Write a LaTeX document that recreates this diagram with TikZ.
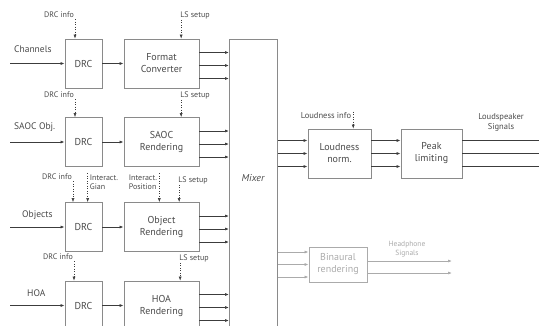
\documentclass[tikz,border=0pt]{standalone}
\usepackage{fontspec}
\setmainfont{PT Sans}
\usetikzlibrary{arrows.meta,calc,positioning}
\definecolor{linegray}{HTML}{3C3C3C}
\definecolor{boxgray}{HTML}{8A8A8A}
\definecolor{textgray}{HTML}{4A4A4A}
\definecolor{fadegray}{HTML}{ABABAB}
\tikzset{
  block/.style={draw=boxgray,line width=0.8pt,minimum height=49pt,inner sep=1pt,align=center,font=\fontsize{10}{12}\selectfont,text=textgray},
  drc block/.style={block,minimum width=37pt},
  render block/.style={block,minimum width=75pt},
  sig edge/.style={-{Latex[length=4pt,width=3pt]},linegray,line width=0.7pt},
  plain edge/.style={linegray,line width=0.7pt},
  ctrl edge/.style={-{Latex[length=4pt,width=3pt]},linegray,dotted,line width=0.5pt},
  small label/.style={font=\fontsize{8}{9}\selectfont,text=textgray,inner sep=1pt,align=center},
  in label/.style={font=\fontsize{9.5}{11}\selectfont,text=textgray,inner sep=0pt,anchor=west},
  faded/.style={draw=fadegray,text=fadegray,fadegray},
}
\begin{document}
\begin{tikzpicture}[x=1pt,y=-1pt]
  \useasboundingbox (0,0) rectangle (539,325);
  \clip (0,0) rectangle (539,325);
  % processing chains
  \node[drc block] (drc1) at (83.5,63.5) {DRC};
  \node[render block] (conv) at (161.5,63.5) {Format\\Converter};
  \node[drc block] (drc2) at (83.5,142) {DRC};
  \node[render block] (saoc) at (161.5,142) {SAOC\\Rendering};
  \node[drc block] (drc3) at (83.5,227) {DRC};
  \node[render block] (obj) at (161.5,227) {Object\\Rendering};
  \node[drc block] (drc4) at (83.5,305.5) {DRC};
  \node[render block] (hoa) at (161.5,305.5) {HOA\\Rendering};
  \node[draw=boxgray,line width=0.8pt,minimum width=48pt,minimum height=310pt,inner sep=0pt,anchor=north west] (mixer) at (229,39) {};
  \node[font=\fontsize{10}{12}\selectfont\itshape,text=textgray] (mixlbl) at (253,178) {Mixer};
  \node[block,minimum width=63pt] (loud) at (339.5,153.5) {Loudness\\norm.};
  \node[block,minimum width=61pt] (peak) at (431.5,153.5) {Peak\\limiting};
  \node[block,faded,minimum width=58pt,minimum height=35pt] (bin) at (338,264.5) {Binaural\\rendering};
  % inputs
  \coordinate (in1) at (10,63.5);
  \coordinate (in2) at (10,142);
  \coordinate (in3) at (10,227);
  \coordinate (in4) at (10,305.5);
  \node[in label] (chl) at (14,49) {Channels};
  \node[in label] (saol) at (14,127) {SAOC Obj.};
  \node[in label] (objl) at (22,215) {Objects};
  \node[in label] (hoal) at (27,293) {HOA};
  \draw[sig edge] (in1) -- (drc1);
  \draw[sig edge] (in2) -- (drc2);
  \draw[sig edge] (in3) -- (drc3);
  \draw[sig edge] (in4) -- (drc4);
  \draw[sig edge] (drc1) -- (conv);
  \draw[sig edge] (drc2) -- (saoc);
  \draw[sig edge] (drc3) -- (obj);
  \draw[sig edge] (drc4) -- (hoa);
  % renderer outputs
  \foreach \r in {conv,saoc,obj,hoa}
    \foreach \dy in {-11,2,15}
      \draw[sig edge] ($(\r.east)+(0,\dy)$) -- ($(mixer.west|-\r.east)+(0,\dy)$);
  % control inputs
  \node[small label] (info1) at (59,15) {DRC info};
  \node[small label] (ls1) at (195,15) {LS setup};
  \node[small label] (info2) at (59,95) {DRC info};
  \node[small label] (ls2) at (195,95) {LS setup};
  \node[small label] (info3) at (57,177) {DRC info};
  \node[small label,align=left] (gain) at (104,182) {Interact.\\Gian};
  \node[small label,align=left] (pos) at (143,182) {Interact.\\Position};
  \node[small label] (ls3) at (193,180) {LS setup};
  \node[small label] (info4) at (58,257) {DRC info};
  \node[small label] (ls4) at (194,258) {LS setup};
  \draw[ctrl edge] (info1.south east) -- (info1.south east|-drc1.north);
  \draw[ctrl edge] ([xshift=2pt]ls1.south west) -- ([xshift=2pt]ls1.south west|-conv.north);
  \draw[ctrl edge] (info2.south east) -- (info2.south east|-drc2.north);
  \draw[ctrl edge] ([xshift=2pt]ls2.south west) -- ([xshift=2pt]ls2.south west|-saoc.north);
  \draw[ctrl edge] (info3.south east) -- (info3.south east|-drc3.north);
  \draw[ctrl edge] ([xshift=-1pt]gain.north west) -- ([xshift=-1pt]gain.north west|-drc3.north);
  \draw[ctrl edge] ([xshift=1pt]pos.north east) -- ([xshift=1pt]pos.north east|-obj.north);
  \draw[ctrl edge] ([xshift=2pt]ls3.south west) -- ([xshift=2pt]ls3.south west|-obj.north);
  \draw[ctrl edge] (info4.south east) -- (info4.south east|-drc4.north);
  \draw[ctrl edge] ([xshift=2pt]ls4.south west) -- ([xshift=2pt]ls4.south west|-hoa.north);
  % loudspeaker path
  \node[small label,font=\fontsize{8.5}{10}\selectfont] (linfo) at (326,116) {Loudness info};
  \draw[ctrl edge] ([xshift=1pt]linfo.north east) -- ([xshift=1pt]linfo.north east|-loud.north);
  \node[small label,font=\fontsize{8.5}{10}\selectfont] (lsig) at (501,122) {Loudspeaker\\Signals};
  \coordinate (lsout) at (539,153.5);
  \foreach \dy in {-13,0,13} {
    \draw[sig edge] ($(mixer.east|-loud.west)+(0,\dy)$) -- ($(loud.west)+(0,\dy)$);
    \draw[sig edge] ($(loud.east)+(0,\dy)$) -- ($(peak.west)+(0,\dy)$);
    \draw[plain edge] ($(peak.east)+(0,\dy)$) -- ($(lsout)+(0,\dy)$);
  }
  % headphone path
  \node[small label,text=fadegray,font=\fontsize{7.5}{8.5}\selectfont] (hsig) at (407,249) {Headphone\\Signals};
  \coordinate (hpout) at (452,264.5);
  \foreach \dy in {-12.5,0,12.5}
    \draw[sig edge,faded] ($(mixer.east|-bin.west)+(0,\dy)$) -- ($(bin.west)+(0,\dy)$);
  \foreach \dy in {-3.5,8.5}
    \draw[sig edge,faded] ($(bin.east)+(0,\dy)$) -- ($(hpout)+(0,\dy)$);
\end{tikzpicture}
\end{document}
